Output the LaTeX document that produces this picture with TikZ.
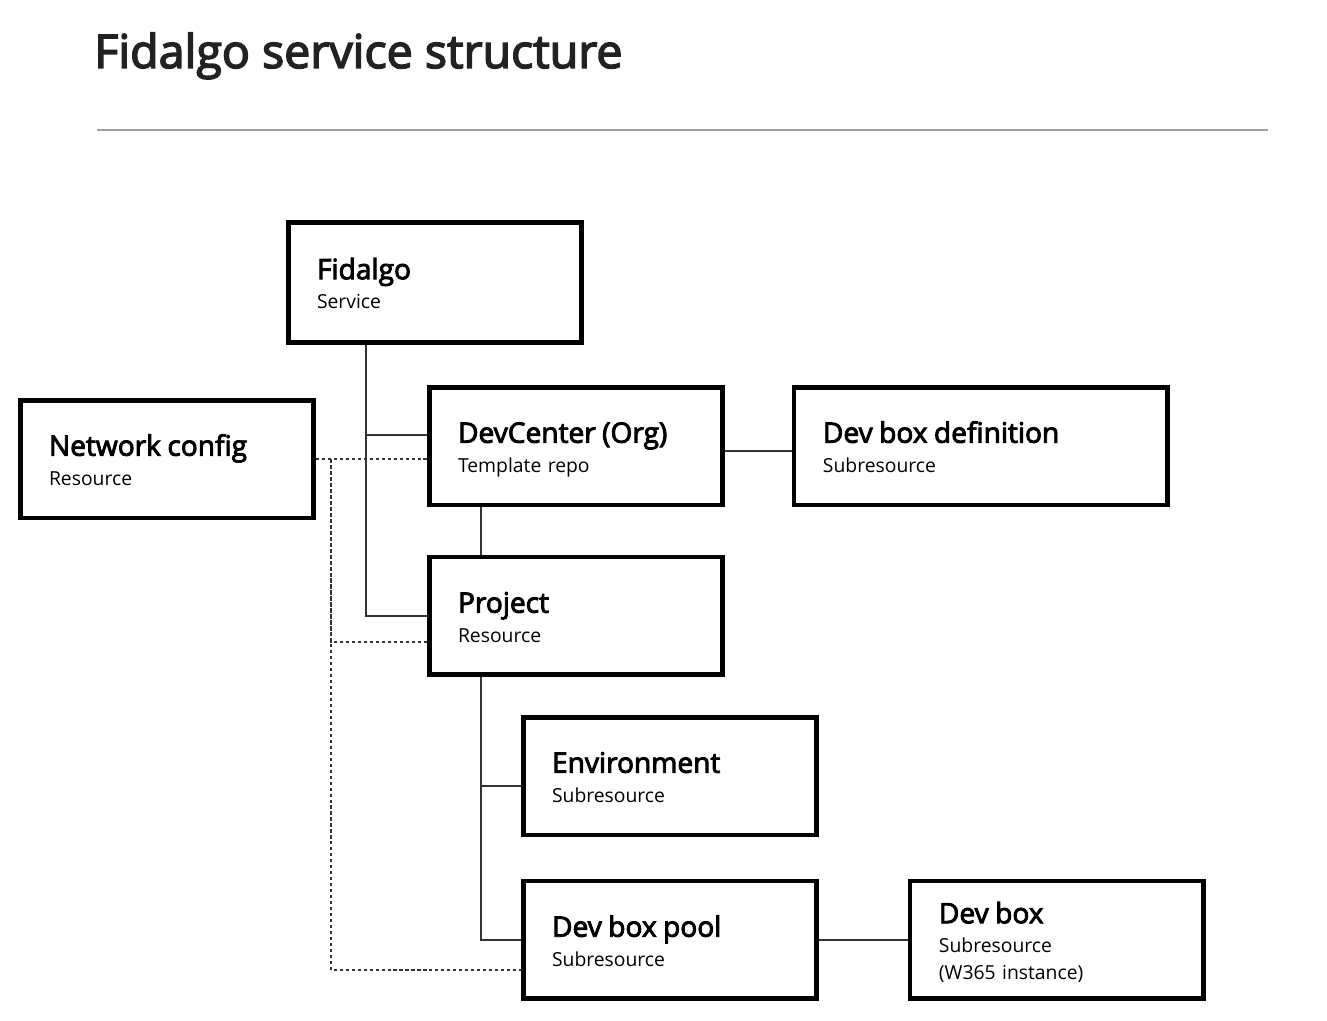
\documentclass[tikz,border=0pt]{standalone}
\usepackage{fontspec}
\setmainfont{Open Sans}
\newfontfamily\semibold{Open Sans}[FakeBold=3.2]
\usetikzlibrary{positioning}

\definecolor{headgray}{HTML}{222222}
\definecolor{linegray}{HTML}{333333}
\definecolor{rulegray}{HTML}{A0A0A0}

% box heading and closing strut
\newcommand{\hd}[1]{{\fontsize{16}{16.7}\selectfont\semibold\rule{0pt}{18pt}#1}}
\newcommand{\lst}{\rule[-5pt]{0pt}{5pt}}

\begin{document}
\begin{tikzpicture}[x=0.02cm, y=-0.02cm,
    blk/.style={draw, line width=2.55pt, minimum height=2.35cm, inner xsep=0.575cm,
        inner ysep=0pt, text width=4.72cm, align=left,
        font=\fontsize{11}{16.7}\selectfont},
    conn/.style={draw=linegray, line width=1.1pt},
    dotline/.style={draw=linegray, line width=1.1pt, dash pattern=on 1.8pt off 1.6pt}]
    \useasboundingbox (0,0) rectangle (1327,1020);

    % title and rule
    \node[anchor=base west, inner sep=0pt, text=headgray,
        font=\fontsize{26.5}{32}\selectfont\semibold] (head) at (94,68) {Fidalgo service structure};
    \draw[rulegray, line width=1.2pt] (97,130) -- (1268,130);

    % define boxes
    \node[blk, minimum height=2.41cm] (fid) at (435,282.5) {\hd{Fidalgo}\\Service\lst};
    \node[blk] (net) at (167,459) {\hd{Network config}\\Resource\lst};
    \node[blk] (dc) at (576,446) {\hd{DevCenter (Org)}\\Template repo\lst};
    \node[blk, text width=6.32cm] (dbd) [right=1.34cm of dc] {\hd{Dev box definition}\\Subresource\lst};
    \node[blk] (prj) [below=0.96cm of dc] {\hd{Project}\\Resource\lst};
    \node[blk] (env) at (670,776) {\hd{Environment}\\Subresource\lst};
    \node[blk] (pool) [below=0.84cm of env] {\hd{Dev box pool}\\Subresource\lst};
    \node[blk] (dbx) [right=1.78cm of pool] {\hd{Dev box}\\Subresource\\[-1.4pt](W365 instance)\lst};

    % solid links
    \coordinate (spine) at ([xshift=-1.38cm]fid.south);
    \coordinate (stem) at ([xshift=-1.9cm]dc.south);
    \coordinate (stem2) at ([xshift=-1.9cm]prj.south);
    \draw[conn] (spine) |- (prj.west);
    \draw[conn] ([yshift=0.22cm]dc.west) -| (spine);
    \draw[conn] ([yshift=-0.1cm]dc.east) -- ([yshift=-0.1cm]dbd.west);
    \draw[conn] (stem) -- (stem |- prj.north);
    \draw[conn] (stem2) |- (pool.west);
    \draw[conn] ([yshift=-0.2cm]env.west) -| (stem2);
    \draw[conn] (pool.east) -- (dbx.west);

    % dotted links from network config
    \coordinate (tap) at ([xshift=0.3cm]net.east);
    \draw[dotline] (net.east) -- (net.east -| dc.west);
    \draw[dotline] (tap) |- ([yshift=-0.6cm]pool.west);
    \draw[dotline] ([yshift=-0.52cm]prj.west) -| (tap);
\end{tikzpicture}
\end{document}
